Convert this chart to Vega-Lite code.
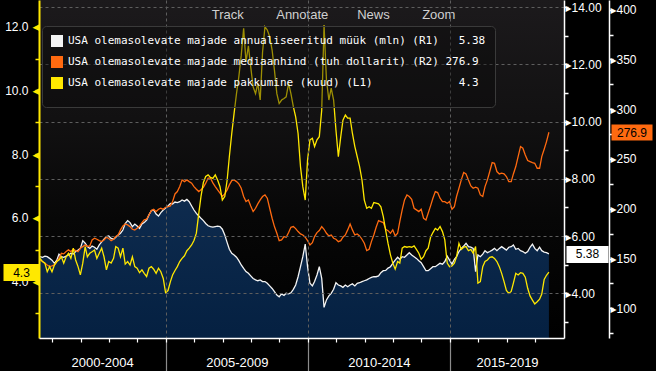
{
  "$schema": "https://vega.github.io/schema/vega-lite/v6.json",
  "width": 525,
  "height": 338,
  "autosize": {"type": "none"},
  "padding": {"left": 39, "top": 0, "right": 92, "bottom": 33},
  "background": "#000000",
  "title": {
    "text": "Track\u00a0\u00a0\u00a0\u00a0\u00a0\u00a0\u00a0\u00a0\u00a0Annotate\u00a0\u00a0\u00a0\u00a0\u00a0\u00a0\u00a0\u00a0News\u00a0\u00a0\u00a0\u00a0\u00a0\u00a0\u00a0\u00a0\u00a0Zoom",
    "anchor": "start",
    "frame": "group",
    "orient": "top",
    "offset": -13,
    "dx": 172.7,
    "dy": 15,
    "baseline": "middle",
    "font": "Liberation Sans",
    "fontSize": 13,
    "fontWeight": "normal",
    "color": "#d0d0d0"
  },
  "config": {
    "view": {
      "stroke": null,
      "fill": {"gradient": "linear", "x1": 0, "y1": 0, "x2": 0, "y2": 1,
        "stops": [{"offset": 0, "color": "#1c1a1c"}, {"offset": 0.35, "color": "#121112"}, {"offset": 0.65, "color": "#070707"}, {"offset": 1, "color": "#000000"}]}
    },
    "axis": {"labelFont": "Liberation Sans, DejaVu Sans", "labelFontSize": 12, "labelColor": "#ffffff", "labelOverlap": false, "labelFlush": false, "labelBound": false}
  },
  "data": {"values": [
    {"d":"2000-07-28","s":5.28,"p":148.6,"m":4.73},
    {"d":"2000-08-28","s":5.26,"p":147.0,"m":4.63},
    {"d":"2000-09-28","s":5.30,"p":145.3,"m":4.58},
    {"d":"2000-10-28","s":5.28,"p":143.6,"m":4.31},
    {"d":"2000-11-28","s":5.22,"p":142.0,"m":4.47},
    {"d":"2000-12-28","s":5.16,"p":142.6,"m":4.31},
    {"d":"2001-01-28","s":5.05,"p":143.6,"m":4.52},
    {"d":"2001-02-28","s":5.16,"p":147.0,"m":4.63},
    {"d":"2001-03-28","s":5.37,"p":150.3,"m":4.68},
    {"d":"2001-04-28","s":5.28,"p":155.3,"m":4.78},
    {"d":"2001-05-28","s":5.26,"p":154.7,"m":4.58},
    {"d":"2001-06-28","s":5.30,"p":157.0,"m":4.78},
    {"d":"2001-07-28","s":5.34,"p":158.7,"m":4.89},
    {"d":"2001-08-28","s":5.40,"p":157.0,"m":4.73},
    {"d":"2001-09-28","s":5.37,"p":159.3,"m":5.05},
    {"d":"2001-10-28","s":5.46,"p":158.0,"m":4.68},
    {"d":"2001-11-28","s":5.51,"p":157.0,"m":4.47},
    {"d":"2001-12-28","s":5.57,"p":160.3,"m":4.21},
    {"d":"2002-01-28","s":5.84,"p":162.0,"m":4.58},
    {"d":"2002-02-28","s":5.75,"p":163.7,"m":5.10},
    {"d":"2002-03-28","s":5.63,"p":162.0,"m":4.78},
    {"d":"2002-04-28","s":5.57,"p":162.7,"m":4.89},
    {"d":"2002-05-28","s":5.65,"p":168.7,"m":4.94},
    {"d":"2002-06-28","s":5.61,"p":170.4,"m":4.99},
    {"d":"2002-07-28","s":5.54,"p":169.4,"m":4.73},
    {"d":"2002-08-28","s":5.69,"p":168.0,"m":4.89},
    {"d":"2002-09-28","s":5.80,"p":167.0,"m":5.05},
    {"d":"2002-10-28","s":5.89,"p":168.7,"m":4.78},
    {"d":"2002-11-28","s":5.98,"p":171.4,"m":4.37},
    {"d":"2002-12-28","s":6.00,"p":170.1,"m":4.63},
    {"d":"2003-01-28","s":5.92,"p":168.0,"m":4.58},
    {"d":"2003-02-28","s":5.89,"p":169.4,"m":4.73},
    {"d":"2003-03-28","s":5.96,"p":172.1,"m":5.10},
    {"d":"2003-04-28","s":6.04,"p":173.7,"m":5.05},
    {"d":"2003-05-28","s":6.10,"p":178.8,"m":4.78},
    {"d":"2003-06-28","s":6.21,"p":182.8,"m":5.05},
    {"d":"2003-07-28","s":6.44,"p":184.8,"m":4.55},
    {"d":"2003-08-28","s":6.54,"p":183.8,"m":4.63},
    {"d":"2003-09-28","s":6.47,"p":182.1,"m":4.52},
    {"d":"2003-10-28","s":6.33,"p":179.4,"m":4.78},
    {"d":"2003-11-28","s":6.42,"p":178.7,"m":4.47},
    {"d":"2003-12-28","s":6.35,"p":180.4,"m":4.42},
    {"d":"2004-01-28","s":6.27,"p":182.8,"m":4.28},
    {"d":"2004-02-28","s":6.42,"p":186.1,"m":4.37},
    {"d":"2004-03-28","s":6.47,"p":188.8,"m":4.26},
    {"d":"2004-04-28","s":6.56,"p":189.5,"m":4.16},
    {"d":"2004-05-28","s":6.74,"p":193.8,"m":4.42},
    {"d":"2004-06-28","s":6.89,"p":198.2,"m":4.47},
    {"d":"2004-07-28","s":6.91,"p":199.5,"m":4.39},
    {"d":"2004-08-28","s":6.77,"p":197.2,"m":4.26},
    {"d":"2004-09-28","s":6.70,"p":199.5,"m":4.42},
    {"d":"2004-10-28","s":6.82,"p":200.5,"m":4.31},
    {"d":"2004-11-28","s":6.91,"p":199.5,"m":4.10},
    {"d":"2004-12-28","s":6.98,"p":201.5,"m":3.65},
    {"d":"2005-01-28","s":7.05,"p":202.2,"m":3.72},
    {"d":"2005-02-28","s":7.14,"p":202.9,"m":4.00},
    {"d":"2005-03-28","s":7.12,"p":207.2,"m":4.21},
    {"d":"2005-04-28","s":7.19,"p":214.9,"m":4.35},
    {"d":"2005-05-28","s":7.17,"p":217.3,"m":4.47},
    {"d":"2005-06-28","s":7.20,"p":222.3,"m":4.63},
    {"d":"2005-07-28","s":7.26,"p":229.0,"m":4.73},
    {"d":"2005-08-28","s":7.22,"p":227.3,"m":4.81},
    {"d":"2005-09-28","s":7.28,"p":229.0,"m":4.97},
    {"d":"2005-10-28","s":7.20,"p":227.3,"m":5.05},
    {"d":"2005-11-28","s":7.05,"p":225.7,"m":5.15},
    {"d":"2005-12-28","s":6.91,"p":222.3,"m":5.29},
    {"d":"2006-01-28","s":6.79,"p":219.6,"m":5.52},
    {"d":"2006-02-28","s":6.70,"p":217.3,"m":6.14},
    {"d":"2006-03-28","s":6.62,"p":219.0,"m":6.67},
    {"d":"2006-04-28","s":6.54,"p":221.6,"m":7.11},
    {"d":"2006-05-28","s":6.44,"p":225.7,"m":7.30},
    {"d":"2006-06-28","s":6.36,"p":230.7,"m":7.35},
    {"d":"2006-07-28","s":6.33,"p":230.7,"m":7.27},
    {"d":"2006-08-28","s":6.31,"p":226.0,"m":7.24},
    {"d":"2006-09-28","s":6.33,"p":222.3,"m":7.35},
    {"d":"2006-10-28","s":6.35,"p":219.0,"m":7.19},
    {"d":"2006-11-28","s":6.33,"p":215.6,"m":6.98},
    {"d":"2006-12-28","s":6.24,"p":212.3,"m":6.56},
    {"d":"2007-01-28","s":6.04,"p":214.9,"m":6.67},
    {"d":"2007-02-28","s":5.77,"p":219.0,"m":7.19},
    {"d":"2007-03-28","s":5.54,"p":224.0,"m":7.92},
    {"d":"2007-04-28","s":5.40,"p":228.3,"m":8.65},
    {"d":"2007-05-28","s":5.34,"p":229.0,"m":9.28},
    {"d":"2007-06-28","s":5.26,"p":227.3,"m":9.90},
    {"d":"2007-07-28","s":5.14,"p":225.0,"m":10.43},
    {"d":"2007-08-28","s":4.99,"p":220.6,"m":11.10},
    {"d":"2007-09-28","s":4.87,"p":212.3,"m":11.95},
    {"d":"2007-10-28","s":4.76,"p":207.2,"m":10.90},
    {"d":"2007-11-28","s":4.70,"p":208.9,"m":11.40},
    {"d":"2007-12-28","s":4.61,"p":202.9,"m":10.74},
    {"d":"2008-01-28","s":4.52,"p":197.2,"m":10.11},
    {"d":"2008-02-28","s":4.47,"p":200.5,"m":9.90},
    {"d":"2008-03-28","s":4.44,"p":204.9,"m":10.22},
    {"d":"2008-04-28","s":4.47,"p":208.9,"m":9.70},
    {"d":"2008-05-28","s":4.41,"p":212.3,"m":11.20},
    {"d":"2008-06-28","s":4.41,"p":213.9,"m":12.00},
    {"d":"2008-07-28","s":4.35,"p":210.6,"m":11.90},
    {"d":"2008-08-28","s":4.26,"p":200.5,"m":11.69},
    {"d":"2008-09-28","s":4.17,"p":190.5,"m":11.27},
    {"d":"2008-10-28","s":4.06,"p":182.1,"m":10.64},
    {"d":"2008-11-28","s":3.94,"p":175.4,"m":9.90},
    {"d":"2008-12-28","s":3.88,"p":168.0,"m":9.59},
    {"d":"2009-01-28","s":3.98,"p":168.7,"m":9.70},
    {"d":"2009-02-28","s":3.93,"p":172.1,"m":9.75},
    {"d":"2009-03-28","s":4.00,"p":171.4,"m":9.80},
    {"d":"2009-04-28","s":3.98,"p":176.1,"m":10.22},
    {"d":"2009-05-28","s":4.02,"p":181.4,"m":9.90},
    {"d":"2009-06-28","s":4.14,"p":182.1,"m":9.49},
    {"d":"2009-07-28","s":4.29,"p":180.1,"m":9.17},
    {"d":"2009-08-28","s":4.58,"p":177.1,"m":8.65},
    {"d":"2009-09-28","s":4.93,"p":174.7,"m":7.61},
    {"d":"2009-10-28","s":5.28,"p":173.7,"m":6.98},
    {"d":"2009-11-28","s":5.72,"p":171.4,"m":6.56},
    {"d":"2009-12-28","s":4.93,"p":168.0,"m":7.82},
    {"d":"2010-01-28","s":4.35,"p":163.7,"m":8.45},
    {"d":"2010-02-28","s":4.26,"p":166.0,"m":8.50},
    {"d":"2010-03-28","s":4.41,"p":172.1,"m":8.24},
    {"d":"2010-04-28","s":4.64,"p":176.1,"m":8.45},
    {"d":"2010-05-28","s":4.93,"p":178.1,"m":8.55},
    {"d":"2010-06-28","s":4.52,"p":182.1,"m":9.38},
    {"d":"2010-07-28","s":3.51,"p":179.4,"m":12.05},
    {"d":"2010-08-28","s":3.77,"p":175.4,"m":10.33},
    {"d":"2010-09-28","s":3.91,"p":172.7,"m":9.70},
    {"d":"2010-10-28","s":4.00,"p":173.7,"m":10.07},
    {"d":"2010-11-28","s":4.14,"p":170.4,"m":9.70},
    {"d":"2010-12-28","s":4.37,"p":169.4,"m":8.76},
    {"d":"2011-01-28","s":4.29,"p":167.0,"m":7.92},
    {"d":"2011-02-28","s":4.26,"p":168.0,"m":8.55},
    {"d":"2011-03-28","s":4.21,"p":171.4,"m":9.07},
    {"d":"2011-04-28","s":4.29,"p":173.7,"m":9.23},
    {"d":"2011-05-28","s":4.23,"p":178.8,"m":9.13},
    {"d":"2011-06-28","s":4.29,"p":184.8,"m":9.13},
    {"d":"2011-07-28","s":4.33,"p":178.8,"m":8.65},
    {"d":"2011-08-28","s":4.26,"p":173.7,"m":8.24},
    {"d":"2011-09-28","s":4.35,"p":174.7,"m":7.92},
    {"d":"2011-10-28","s":4.37,"p":172.7,"m":7.61},
    {"d":"2011-11-28","s":4.41,"p":169.4,"m":7.19},
    {"d":"2011-12-28","s":4.44,"p":165.4,"m":6.56},
    {"d":"2012-01-28","s":4.47,"p":158.0,"m":6.30},
    {"d":"2012-02-28","s":4.52,"p":159.3,"m":6.35},
    {"d":"2012-03-28","s":4.56,"p":167.0,"m":6.30},
    {"d":"2012-04-28","s":4.58,"p":173.7,"m":6.48},
    {"d":"2012-05-28","s":4.58,"p":181.4,"m":6.46},
    {"d":"2012-06-28","s":4.61,"p":188.1,"m":6.44},
    {"d":"2012-07-28","s":4.72,"p":187.1,"m":6.35},
    {"d":"2012-08-28","s":4.79,"p":186.1,"m":6.04},
    {"d":"2012-09-28","s":4.80,"p":179.5,"m":5.60},
    {"d":"2012-10-28","s":4.88,"p":178.0,"m":5.20},
    {"d":"2012-11-28","s":4.93,"p":175.4,"m":4.84},
    {"d":"2012-12-28","s":5.05,"p":178.8,"m":4.58},
    {"d":"2013-01-28","s":5.16,"p":172.7,"m":4.39},
    {"d":"2013-02-28","s":5.26,"p":175.4,"m":4.63},
    {"d":"2013-03-28","s":5.19,"p":187.1,"m":4.58},
    {"d":"2013-04-28","s":5.28,"p":198.9,"m":5.05},
    {"d":"2013-05-28","s":5.26,"p":208.9,"m":5.10},
    {"d":"2013-06-28","s":5.34,"p":213.9,"m":5.08},
    {"d":"2013-07-28","s":5.42,"p":212.3,"m":5.10},
    {"d":"2013-08-28","s":5.34,"p":209.6,"m":5.08},
    {"d":"2013-09-28","s":5.28,"p":200.5,"m":5.12},
    {"d":"2013-10-28","s":5.22,"p":198.9,"m":5.01},
    {"d":"2013-11-28","s":5.14,"p":197.2,"m":4.89},
    {"d":"2013-12-28","s":5.07,"p":199.5,"m":4.70},
    {"d":"2014-01-28","s":4.93,"p":190.5,"m":4.78},
    {"d":"2014-02-28","s":4.79,"p":188.8,"m":4.97},
    {"d":"2014-03-28","s":4.79,"p":195.5,"m":5.05},
    {"d":"2014-04-28","s":4.86,"p":202.9,"m":5.39},
    {"d":"2014-05-28","s":4.93,"p":210.6,"m":5.54},
    {"d":"2014-06-28","s":4.93,"p":217.3,"m":5.67},
    {"d":"2014-07-28","s":4.99,"p":216.3,"m":5.62},
    {"d":"2014-08-28","s":5.05,"p":210.6,"m":5.73},
    {"d":"2014-09-28","s":5.02,"p":207.2,"m":5.57},
    {"d":"2014-10-28","s":5.11,"p":207.2,"m":5.31},
    {"d":"2014-11-28","s":5.30,"p":205.6,"m":4.58},
    {"d":"2014-12-28","s":5.16,"p":207.2,"m":4.47},
    {"d":"2015-01-28","s":5.02,"p":199.5,"m":4.49},
    {"d":"2015-02-28","s":5.19,"p":202.2,"m":4.58},
    {"d":"2015-03-28","s":5.28,"p":212.3,"m":4.78},
    {"d":"2015-04-28","s":5.46,"p":220.6,"m":5.20},
    {"d":"2015-05-28","s":5.57,"p":229.0,"m":5.01},
    {"d":"2015-06-28","s":5.65,"p":236.4,"m":5.08},
    {"d":"2015-07-28","s":5.75,"p":235.0,"m":5.10},
    {"d":"2015-08-28","s":5.63,"p":229.0,"m":4.97},
    {"d":"2015-09-28","s":5.61,"p":223.0,"m":5.01},
    {"d":"2015-10-28","s":5.57,"p":220.6,"m":4.89},
    {"d":"2015-11-28","s":4.76,"p":221.6,"m":5.10},
    {"d":"2015-12-28","s":5.34,"p":220.6,"m":3.95},
    {"d":"2016-01-28","s":5.28,"p":213.9,"m":4.00},
    {"d":"2016-02-28","s":5.37,"p":212.3,"m":4.47},
    {"d":"2016-03-28","s":5.49,"p":222.3,"m":4.63},
    {"d":"2016-04-28","s":5.42,"p":229.0,"m":4.68},
    {"d":"2016-05-28","s":5.46,"p":237.4,"m":4.76},
    {"d":"2016-06-28","s":5.51,"p":246.4,"m":4.78},
    {"d":"2016-07-28","s":5.57,"p":245.7,"m":4.73},
    {"d":"2016-08-28","s":5.49,"p":237.4,"m":4.63},
    {"d":"2016-09-28","s":5.57,"p":235.0,"m":4.47},
    {"d":"2016-10-28","s":5.63,"p":235.7,"m":4.26},
    {"d":"2016-11-28","s":5.57,"p":235.0,"m":4.00},
    {"d":"2016-12-28","s":5.51,"p":232.4,"m":3.72},
    {"d":"2017-01-28","s":5.61,"p":227.3,"m":3.63},
    {"d":"2017-02-28","s":5.63,"p":227.3,"m":3.69},
    {"d":"2017-03-28","s":5.69,"p":235.0,"m":3.95},
    {"d":"2017-04-28","s":5.54,"p":242.4,"m":4.26},
    {"d":"2017-05-28","s":5.57,"p":252.4,"m":4.21},
    {"d":"2017-06-28","s":5.49,"p":262.5,"m":4.28},
    {"d":"2017-07-28","s":5.46,"p":260.8,"m":4.26},
    {"d":"2017-08-28","s":5.40,"p":254.1,"m":4.14},
    {"d":"2017-09-28","s":5.46,"p":248.4,"m":3.79},
    {"d":"2017-10-28","s":5.61,"p":247.4,"m":3.55},
    {"d":"2017-11-28","s":5.72,"p":246.4,"m":3.42},
    {"d":"2017-12-28","s":5.57,"p":245.7,"m":3.30},
    {"d":"2018-01-28","s":5.49,"p":240.7,"m":3.37},
    {"d":"2018-02-28","s":5.61,"p":240.7,"m":3.45},
    {"d":"2018-03-28","s":5.49,"p":252.4,"m":3.61},
    {"d":"2018-04-28","s":5.44,"p":259.8,"m":4.07},
    {"d":"2018-05-28","s":5.42,"p":267.5,"m":4.20},
    {"d":"2018-06-28","s":5.38,"p":276.9,"m":4.30}
  ]},
  "layer": [
    {
      "layer": [
        {
          "mark": {"type": "area", "clip": true, "line": false,
            "color": {"gradient": "linear", "x1": 0, "y1": 0, "x2": 0, "y2": 1,
              "stops": [{"offset": 0, "color": "#0e2b4e"}, {"offset": 1, "color": "#001b3b"}]}},
          "encoding": {
            "x": {"field": "d", "type": "temporal",
              "scale": {"domain": [{"year": 2000, "month": 7, "date": 14}, {"year": 2019, "month": 1, "date": 8}], "nice": false},
              "axis": {
                "orient": "bottom",
                "values": [
                  {"year": 2001, "month": 1, "date": 1}, {"year": 2002, "month": 1, "date": 1}, {"year": 2003, "month": 1, "date": 1},
                  {"year": 2004, "month": 1, "date": 1}, {"year": 2005, "month": 1, "date": 1}, {"year": 2006, "month": 1, "date": 1},
                  {"year": 2007, "month": 1, "date": 1}, {"year": 2008, "month": 1, "date": 1}, {"year": 2009, "month": 1, "date": 1},
                  {"year": 2010, "month": 1, "date": 1}, {"year": 2011, "month": 1, "date": 1}, {"year": 2012, "month": 1, "date": 1},
                  {"year": 2013, "month": 1, "date": 1}, {"year": 2014, "month": 1, "date": 1}, {"year": 2015, "month": 1, "date": 1},
                  {"year": 2016, "month": 1, "date": 1}, {"year": 2017, "month": 1, "date": 1}, {"year": 2018, "month": 1, "date": 1}
                ],
                "domain": true, "domainColor": "#ffffff", "domainWidth": 1.5,
                "ticks": true, "tickSize": 4, "tickColor": "#ffffff", "tickWidth": 1.2,
                "grid": false, "labels": false,
                "title": null, "zindex": 2
              }
            },
            "y": {"field": "s", "type": "quantitative",
              "scale": {"domain": [2.44, 14.245], "zero": false, "nice": false},
              "axis": {
                "orient": "right", "offset": 0,
                "values": [3, 4, 5, 6, 7, 8, 9, 10, 11, 12, 13, 14],
                "domainColor": "#ffffff", "domainWidth": 1.5,
                "tickColor": "#ffffff", "tickSize": 4, "tickWidth": 1.5,
                "labelExpr": "datum.value % 2 == 0 ? '\u25b8' + format(datum.value, '.2f') : ''",
                "labelPadding": -3, "labelFontSize": 12,
                "grid": true, "gridColor": "#5e5e5e", "gridDash": [3, 3], "gridWidth": 1,
                "gridOpacity": {"condition": {"test": "datum.value % 2 == 0", "value": 1}, "value": 0},
                "title": null, "zindex": 1
              }
            }
          }
        },
        {
          "mark": {"type": "line", "clip": true, "strokeWidth": 1.3},
          "encoding": {
            "x": {"field": "d", "type": "temporal",
              "axis": {
                "orient": "bottom",
                "values": [{"year": 2005, "month": 1, "date": 1}, {"year": 2010, "month": 1, "date": 1}, {"year": 2015, "month": 1, "date": 1}],
                "domain": false, "ticks": true, "tickSize": 33, "tickColor": "#8c8c8c", "tickWidth": 1.2,
                "labels": false,
                "grid": true, "gridColor": "#5e5e5e", "gridDash": [3, 3], "gridWidth": 1,
                "title": null, "zindex": 1
              }
            },
            "y": {"field": "s", "type": "quantitative",
              "scale": {"domain": [2.44, 14.245], "zero": false, "nice": false},
              "axis": {
                "orient": "right", "offset": 2, "values": [5.38],
                "domain": false, "grid": false,
                "tickSize": 42, "tickWidth": 17, "tickColor": "#ffffff",
                "labelExpr": "format(datum.value, '.2f')", "labelColor": "#000000",
                "labelAlign": "center", "labelPadding": -21, "labelFontSize": 12,
                "title": null, "zindex": 2
              }
            },
            "color": {"datum": "USA olemasolevate majade annualiseeritud müük (mln) (R1)\u00a0\u00a0\u00a05.38",
              "type": "nominal",
              "scale": {"domain": ["USA olemasolevate majade annualiseeritud müük (mln) (R1)\u00a0\u00a0\u00a05.38", "USA olemasolevate majade mediaanhind (tuh dollarit) (R2)\u00a0276.9", "USA olemasolevate majade pakkumine (kuud) (L1)\u00a0\u00a0\u00a0\u00a0\u00a0\u00a0\u00a0\u00a0\u00a0\u00a0\u00a0\u00a0\u00a04.3"],
                "range": ["#f4f4f4", "#ff6a10", "#ffe800"]},
              "legend": {"title": null, "orient": "none", "legendX": 3, "legendY": 26, "direction": "vertical",
                "labelFont": "DejaVu Sans Mono", "labelFontSize": 11, "labelColor": "#ffffff", "labelLimit": 0, "labelOffset": 5,
                "symbolType": "square", "symbolSize": 36, "symbolStrokeWidth": 6, "rowPadding": -13.5, "padding": 9,
                "fillColor": "rgba(10,10,10,0.4)", "strokeColor": "#3a3a3a", "cornerRadius": 4, "zindex": 1}
            }
          }
        }
      ],
      "resolve": {"scale": {"y": "shared"}, "axis": {"x": "independent", "y": "independent"}}
    },
    {
      "layer": [
        {
          "mark": {"type": "line", "clip": true, "strokeWidth": 1.3},
          "encoding": {
            "x": {"field": "d", "type": "temporal",
              "axis": {
                "orient": "bottom",
                "values": [{"year": 2002, "month": 10, "date": 4}, {"year": 2007, "month": 7, "date": 2}, {"year": 2012, "month": 7, "date": 2}, {"year": 2017, "month": 1, "date": 5}],
                "domain": false, "ticks": false, "grid": false,
                "labelExpr": "(year(datum.value) - year(datum.value) % 5) + '-' + (year(datum.value) - year(datum.value) % 5 + 4)",
                "labelFontSize": 13, "labelBaseline": "middle", "labelAlign": "center", "labelPadding": 24,
                "title": null, "zindex": 1
              }
            },
            "y": {"field": "p", "type": "quantitative",
              "scale": {"domain": [70.2, 409.7], "zero": false, "nice": false},
              "axis": {
                "orient": "right", "offset": 45,
                "values": [75, 100, 125, 150, 175, 200, 225, 250, 275, 300, 325, 350, 375, 400],
                "domainColor": "#ffffff", "domainWidth": 1.5,
                "tickColor": "#ffffff", "tickSize": 4, "tickWidth": 1.5,
                "labelExpr": "datum.value % 50 == 0 ? '\u25b8' + datum.value : ''",
                "labelPadding": -3, "labelFontSize": 12,
                "grid": false, "title": null, "zindex": 1
              }
            },
            "color": {"datum": "USA olemasolevate majade mediaanhind (tuh dollarit) (R2)\u00a0276.9",
              "type": "nominal",
              "scale": {"domain": ["USA olemasolevate majade annualiseeritud müük (mln) (R1)\u00a0\u00a0\u00a05.38", "USA olemasolevate majade mediaanhind (tuh dollarit) (R2)\u00a0276.9", "USA olemasolevate majade pakkumine (kuud) (L1)\u00a0\u00a0\u00a0\u00a0\u00a0\u00a0\u00a0\u00a0\u00a0\u00a0\u00a0\u00a0\u00a04.3"],
                "range": ["#f4f4f4", "#ff6a10", "#ffe800"]},
              "legend": {"title": null, "orient": "none", "legendX": 3, "legendY": 26, "direction": "vertical",
                "labelFont": "DejaVu Sans Mono", "labelFontSize": 11, "labelColor": "#ffffff", "labelLimit": 0, "labelOffset": 5,
                "symbolType": "square", "symbolSize": 36, "symbolStrokeWidth": 6, "rowPadding": -13.5, "padding": 9,
                "fillColor": "rgba(10,10,10,0.4)", "strokeColor": "#3a3a3a", "cornerRadius": 4, "zindex": 1}
            }
          }
        },
        {
          "mark": {"type": "line", "clip": true, "opacity": 0},
          "encoding": {
            "x": {"field": "d", "type": "temporal", "axis": null},
            "y": {"field": "p", "type": "quantitative",
              "scale": {"domain": [70.2, 409.7], "zero": false, "nice": false},
              "axis": {
                "orient": "right", "offset": 47, "values": [276.9],
                "domain": false, "grid": false,
                "tickSize": 41, "tickWidth": 16, "tickColor": "#ff6a10",
                "labelExpr": "format(datum.value, '.1f')", "labelColor": "#000000",
                "labelAlign": "center", "labelPadding": -20.5, "labelFontSize": 12,
                "title": null, "zindex": 2
              }
            }
          }
        }
      ],
      "resolve": {"scale": {"y": "shared"}, "axis": {"x": "independent", "y": "independent"}}
    },
    {
      "layer": [
        {
          "mark": {"type": "line", "clip": true, "strokeWidth": 1.3},
          "encoding": {
            "x": {"field": "d", "type": "temporal", "axis": null},
            "y": {"field": "m", "type": "quantitative",
              "scale": {"domain": [2.23, 12.84], "zero": false, "nice": false},
              "axis": {
                "orient": "left", "offset": 0,
                "values": [3, 4, 5, 6, 7, 8, 9, 10, 11, 12],
                "domainColor": "#ffe800", "domainWidth": 2,
                "tickColor": "#ffe800", "tickSize": 4, "tickWidth": 1.5,
                "labelExpr": "datum.value % 2 == 0 ? format(datum.value, '.1f') : ''",
                "labelPadding": 7, "labelFontSize": 12,
                "grid": false, "title": null, "zindex": 1
              }
            },
            "color": {"datum": "USA olemasolevate majade pakkumine (kuud) (L1)\u00a0\u00a0\u00a0\u00a0\u00a0\u00a0\u00a0\u00a0\u00a0\u00a0\u00a0\u00a0\u00a04.3",
              "type": "nominal",
              "scale": {"domain": ["USA olemasolevate majade annualiseeritud müük (mln) (R1)\u00a0\u00a0\u00a05.38", "USA olemasolevate majade mediaanhind (tuh dollarit) (R2)\u00a0276.9", "USA olemasolevate majade pakkumine (kuud) (L1)\u00a0\u00a0\u00a0\u00a0\u00a0\u00a0\u00a0\u00a0\u00a0\u00a0\u00a0\u00a0\u00a04.3"],
                "range": ["#f4f4f4", "#ff6a10", "#ffe800"]},
              "legend": {"title": null, "orient": "none", "legendX": 3, "legendY": 26, "direction": "vertical",
                "labelFont": "DejaVu Sans Mono", "labelFontSize": 11, "labelColor": "#ffffff", "labelLimit": 0, "labelOffset": 5,
                "symbolType": "square", "symbolSize": 36, "symbolStrokeWidth": 6, "rowPadding": -13.5, "padding": 9,
                "fillColor": "rgba(10,10,10,0.4)", "strokeColor": "#3a3a3a", "cornerRadius": 4, "zindex": 1}
            }
          }
        },
        {
          "mark": {"type": "line", "clip": true, "opacity": 0},
          "encoding": {
            "x": {"field": "d", "type": "temporal", "axis": null},
            "y": {"field": "m", "type": "quantitative",
              "scale": {"domain": [2.23, 12.84], "zero": false, "nice": false},
              "axis": {
                "orient": "left", "offset": 0, "values": [4, 6, 8, 10, 12],
                "domain": false, "ticks": false, "grid": false,
                "labelExpr": "'\u25c0'", "labelColor": "#ffe800", "labelFontSize": 9, "labelFont": "DejaVu Sans",
                "labelPadding": 0, "title": null, "zindex": 1
              }
            }
          }
        },
        {
          "mark": {"type": "line", "clip": true, "opacity": 0},
          "encoding": {
            "x": {"field": "d", "type": "temporal", "axis": null},
            "y": {"field": "m", "type": "quantitative",
              "scale": {"domain": [2.23, 12.84], "zero": false, "nice": false},
              "axis": {
                "orient": "left", "offset": 0, "values": [4.3],
                "domain": false, "grid": false,
                "tickSize": 36, "tickWidth": 17, "tickColor": "#ffe800",
                "labelExpr": "format(datum.value, '.1f')", "labelColor": "#000000",
                "labelAlign": "center", "labelPadding": -18, "labelFontSize": 12,
                "title": null, "zindex": 2
              }
            }
          }
        }
      ],
      "resolve": {"scale": {"y": "shared"}, "axis": {"x": "independent", "y": "independent"}}
    }
  ],
  "resolve": {"scale": {"y": "independent"}, "axis": {"x": "independent"}}
}
